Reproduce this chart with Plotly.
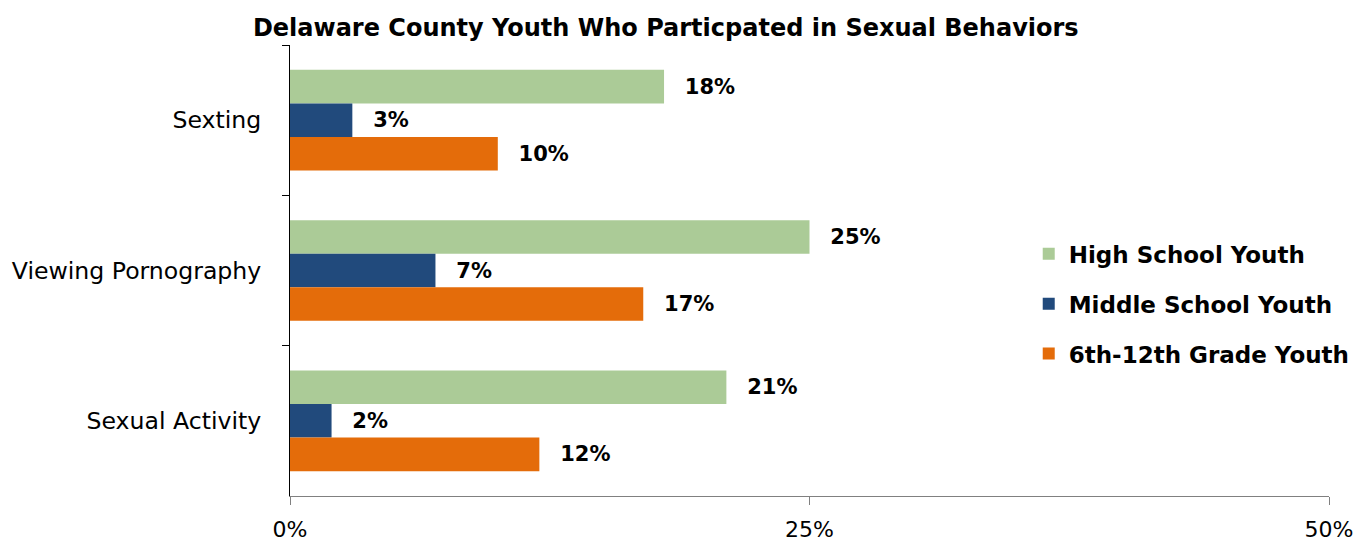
import plotly.graph_objects as go

categories = ["Sexting", "Viewing Pornography", "Sexual Activity"]
series_names = ["High School Youth", "Middle School Youth", "6th-12th Grade Youth"]
high_school = [18, 25, 21]
middle_school = [3, 7, 2]
grade_6_12 = [10, 17, 12]
colors = ["#ABCB97", "#214A7C", "#E46C0A"]
x_ticks = [0, 25, 50]
x_tick_labels = ["0%", "25%", "50%"]

fig = go.Figure()
for name, vals, col in zip(series_names, [high_school, middle_school, grade_6_12], colors):
    fig.add_trace(go.Bar(
        y=categories, x=vals, name=name, orientation="h",
        marker=dict(color=col, line=dict(width=0)),
        text=[f"\u2002\u00a0{v}%" for v in vals], texttemplate="%{text}",
        textposition="outside",
        textfont=dict(family="DejaVu Sans", size=21, color="#000000", weight="bold"),
        cliponaxis=False, legendgroup=name,
    ))

fig.update_layout(
    width=1359, height=536,
    margin=dict(l=282, r=38, t=37, b=48),
    paper_bgcolor="white", plot_bgcolor="white",
    barmode="group", bargap=0.33, bargroupgap=0,
    title=dict(text="<b>Delaware County Youth Who Particpated in Sexual Behaviors</b>",
               x=0.484, xanchor="center", y=0.963, yanchor="middle",
               font=dict(family="DejaVu Sans", size=24, color="#000000")),
    showlegend=True,
    legend=dict(x=0.711, y=0.426, xanchor="left", yanchor="middle",
                font=dict(family="DejaVu Sans", size=23, color="#000000", weight="bold"),
                bgcolor="rgba(0,0,0,0)", traceorder="grouped", tracegroupgap=17,
                itemwidth=30),
    xaxis=dict(range=[0, 50], tickvals=x_ticks, ticktext=x_tick_labels,
               showgrid=False, zeroline=False, showline=True, linecolor="#808080",
               ticks="outside", ticklen=8, tickcolor="#808080", automargin=False,
               ticklabelstandoff=6,
               tickfont=dict(family="DejaVu Sans", size=22, color="#000000")),
    yaxis=dict(categoryorder="array", categoryarray=categories, autorange="reversed",
               showgrid=False, zeroline=False, showline=True, linecolor="#000000",
               ticks="outside", ticklen=7, tickson="boundaries", tickcolor="#000000",
               ticklabelstandoff=23, automargin=False,
               tickfont=dict(family="DejaVu Sans", size=23.6, color="#000000")),
)

fig.write_html("out.html")
